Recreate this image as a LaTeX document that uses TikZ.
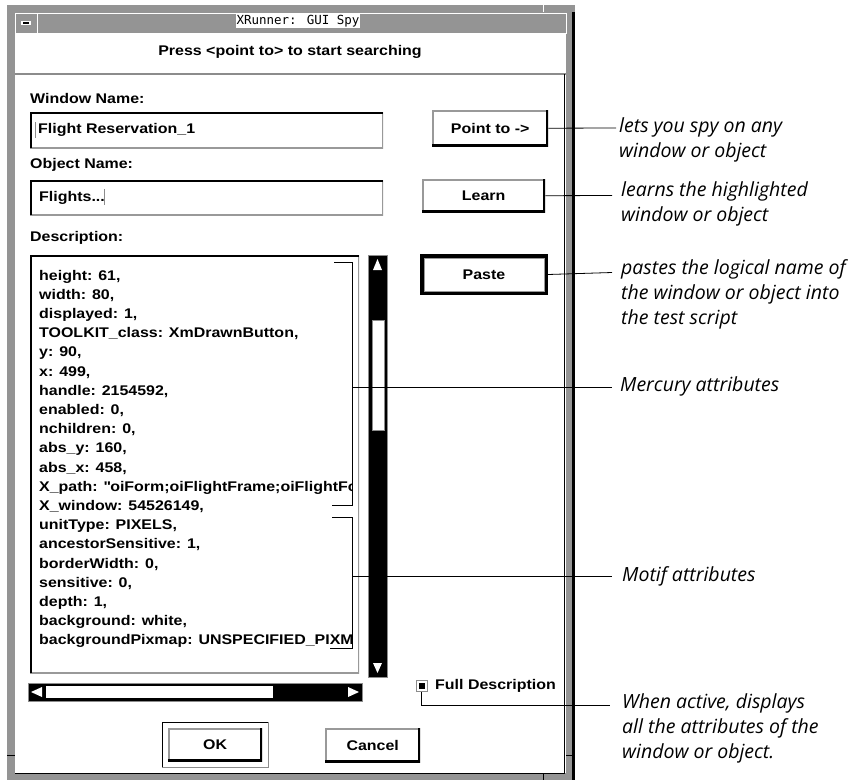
\documentclass[tikz,border=0pt]{standalone}
\usepackage{fontspec}
\setmainfont{Liberation Sans}
\newfontfamily\guifamily[FakeStretch=1.14]{Liberation Sans}
\newfontfamily\notefamily{Open Sans}
\newfontfamily\titlefamily{DejaVu Sans Mono}
\usetikzlibrary{positioning,calc}

\tikzset{
  gui/.style={font=\guifamily\fontsize{14}{16}\selectfont\bfseries, inner sep=0pt},
  note/.style={font=\notefamily\itshape\fontsize{19.5}{25}\selectfont, align=left, anchor=north west, inner sep=0pt},
  callout/.style={draw=black, line width=0.8pt},
  sunken/.style={fill=white, inner sep=0pt, path picture={
      \draw[black!40, line width=3pt] (path picture bounding box.north east) |- (path picture bounding box.south west);
      \draw[line width=4pt] (path picture bounding box.south west) |- (path picture bounding box.north east);}},
  raised/.style={gui, fill=white, path picture={
      \draw[black!40, line width=3pt] (path picture bounding box.south west) |- (path picture bounding box.north east);
      \draw[line width=4pt] (path picture bounding box.north east) |- (path picture bounding box.south west);}},
}

\begin{document}
\begin{tikzpicture}[x=1pt, y=-1pt]
  \useasboundingbox (0,0) rectangle (862,782);

  % window frame and title bar
  \fill[black!42] (7,5) rectangle (575,780);
  \draw[line width=2.5pt] (573.5,12) -- (573.5,780);
  \draw[white, line width=1pt] (15,13) rectangle (566,33);
  \draw[white, line width=1pt] (37,13) -- (37,33);
  \draw[white, line width=1pt] (543,5) -- (543,12);
  \draw[line width=1pt] (7,755) -- (15,755) (566,755) -- (573,755) (543,773) -- (543,780);
  \fill[white] (21,21) rectangle (31,25);
  \fill[black] (23,22) rectangle (29,24);
  \node[font=\titlefamily\fontsize{12.5}{14}\selectfont, fill=white, inner sep=1pt] (title) at (298,21) {XRunner: GUI Spy};

  % dialog panel
  \fill[white] (15,33) rectangle (566,773);
  \draw[black!45, line width=1.5pt] (15,74) -- (566,74);
  \draw[line width=1pt] (564.5,74) -- (564.5,773) -- (15,773);
  \node[gui] (prompt) at (290,52) {Press <point to> to start searching};

  % name fields
  \node[gui, anchor=west] (wnlabel) at (30,98) {Window Name:};
  \node[sunken, minimum width=353, minimum height=36, anchor=north west] (wnfield) at (30,112) {};
  \node[gui, anchor=west] (wntext) at ($(wnfield.west)+(8,0)$) {Flight Reservation\_1};
  \draw[black!45, line width=0.8pt] (35,122) -- (35,138);
  \node[gui, anchor=west] (onlabel) at (30,165) {Object Name:};
  \node[sunken, minimum width=353, minimum height=35, anchor=north west] (onfield) at (30,180) {};
  \node[gui, anchor=west] (ontext) at ($(onfield.west)+(9,0)$) {Flights...};
  \draw[black!45, line width=0.8pt] (104,189) -- (104,205);

  % description list
  \node[gui, anchor=west] (desclabel) at (30,238) {Description:};
  \node[sunken, minimum width=329, minimum height=418, anchor=north west] (descbox) at (30,255) {};
  \begin{scope}
    \clip (33,258) rectangle (351,670);
    \foreach \attr [count=\i from 0] in {{height: 61,},{width: 80,},{displayed: 1,},
        {TOOLKIT\_class: XmDrawnButton,},{y: 90,},{x: 499,},{handle: 2154592,},
        {enabled: 0,},{nchildren: 0,},{abs\_y: 160,},{abs\_x: 458,},
        {X\_path: \textquotedbl oiForm;oiFlightFrame;oiFlightForm},{X\_window: 54526149,},
        {unitType: PIXELS,},{ancestorSensitive: 1,},{borderWidth: 0,},
        {sensitive: 0,},{depth: 1,},{background: white,},
        {backgroundPixmap: UNSPECIFIED\_PIXMAP,}}
      \node[gui, anchor=base west] (attr\i) at (39,280+19.2*\i) {\attr};
  \end{scope}

  % attribute brackets
  \draw[line width=0.8pt] (334,262) -- (352,262) -- (352,505) -- (332,505);
  \draw[line width=0.8pt] (332,517) -- (352,517) -- (352,648) -- (330,648);
  \coordinate (merc) at (352,387);
  \coordinate (motif) at (352,576);

  % scroll bars
  \fill[black] (368,255) rectangle (387,677);
  \draw[black!45, line width=1pt] (368,255) rectangle (387,677);
  \fill[white] (372,320) rectangle (384,430);
  \draw[black!45, line width=1pt] (372,320) rectangle (384,430);
  \fill[white] (377.5,259) -- (373,270) -- (382,270) -- cycle;
  \fill[white] (373,663) -- (382,663) -- (377.5,673) -- cycle;
  \fill[black] (28,683) rectangle (362,701);
  \draw[black!45, line width=1pt] (28,683) rectangle (362,701);
  \fill[white] (46,686) rectangle (273,698);
  \fill[white] (31,692) -- (42,687) -- (42,697) -- cycle;
  \fill[white] (359,692) -- (348,687) -- (348,697) -- cycle;

  % buttons
  \node[raised, minimum width=116, minimum height=36, anchor=north west] (pointto) at (432,110) {Point to ->};
  \node[raised, minimum width=123, minimum height=33, anchor=north west] (learn) at (422,179) {Learn};
  \node[gui, fill=white, draw=black, line width=4pt, minimum width=124, minimum height=37, anchor=north west] (paste) at (420,254) {Paste};
  \draw[black!40, line width=1pt] ($(paste.north west)+(4,4)$) rectangle ($(paste.south east)+(-4,-4)$);
  \draw[black!45, line width=1pt] (162,722) rectangle (268,767);
  \draw[line width=0.8pt] (162,767) -- (162,722) -- (268,722);
  \node[raised, minimum width=94, minimum height=33, anchor=north west] (ok) at (168,728) {OK};
  \node[raised, minimum width=95, minimum height=34, anchor=north west] (cancel) at (325,728) {Cancel};

  % full description toggle
  \node[draw=black!45, line width=1pt, fill=white, minimum size=11, inner sep=0pt] (check) at (421.5,686) {};
  \fill[black] (418.5,683) rectangle (424.5,689);
  \node[gui, anchor=west] (fulldesc) at (435,686) {Full Description};

  % callouts
  \coordinate (c1) at (616,128);
  \coordinate (c2) at (612,195.5);
  \coordinate (c3) at (612,272.5);
  \coordinate (c4) at (612,387);
  \coordinate (c5) at (612,576);
  \coordinate (c6) at (610,705);
  \draw[callout] (pointto.east) -- (c1);
  \draw[callout] (learn.east) -- (c2);
  \draw[callout] (paste.east) -- (c3);
  \draw[callout] (merc) -- (c4);
  \draw[callout] (motif) -- (c5);
  \draw[callout] (check.south) |- (c6);
  \node[note] (n1) at ($(c1)+(3,-11)$) {lets you spy on any\\window or object};
  \node[note] (n2) at ($(c2)+(9,-14)$) {learns the highlighted\\window or object};
  \node[note] (n3) at ($(c3)+(9,-13)$) {pastes the logical name of\\the window or object into\\the test script};
  \node[note] (n4) at ($(c4)+(8,-11)$) {Mercury attributes};
  \node[note] (n5) at ($(c5)+(10,-10)$) {Motif attributes};
  \node[note] (n6) at ($(c6)+(12,-12)$) {When active, displays\\all the attributes of the\\window or object.};
\end{tikzpicture}
\end{document}
